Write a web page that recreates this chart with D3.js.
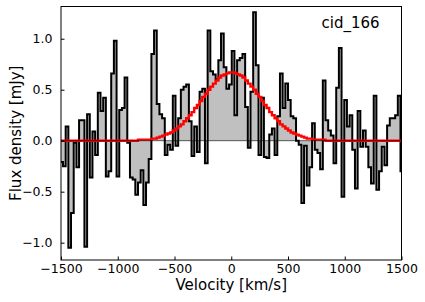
<!DOCTYPE html>
<html>
<head>
<meta charset="utf-8">
<script src="https://cdn.jsdelivr.net/npm/d3@7"></script>
<style>
  body { margin: 0; background: #fff; }
  svg text { font-family: "DejaVu Sans", sans-serif; fill: #000; }
</style>
</head>
<body>
<div id="chart"></div>
<script>
// data ------------------------------------------------------------------
const velStart = -1506;   // left edge of first channel (km/s)
const chanWidth = 23.6;   // channel width (km/s)

// observed flux per channel [mJy]
const flux = [
  -0.21, -0.25, 0.14, -1.05, -0.71, -0.02, -0.26, 0.20, 0.20, -1.04,
  0.26, -0.36, 0.09, -0.14, 0.47, 0.29, 0.42, -0.35, -0.30, 0.66,
  0.98, -0.35, 0.30, 0.32, 0.62, -0.02, -0.36, -0.38, -0.53, -0.41,
  -0.29, -0.63, -0.41, -0.18, 0.85, 1.08, 0.36, 0.26, 0.22, -0.14,
  -0.04, -0.09, 0.44, -0.05, 0.22, 0.50, 0.53, 0.55, 0.19, -0.15,
  0.14, -0.11, 0.48, 0.51, -0.22, 1.08, 0.68, 0.65, 0.60, 0.79,
  1.05, 0.72, 0.51, 0.55, 0.88, 0.25, 0.79, 0.81, 0.85, 0.33,
  -0.07, 0.48, 1.26, 0.74, -0.14, 0.42, -0.16, -0.17, 0.06, 0.12,
  -0.14, 0.24, 0.66, 0.32, 0.56, 0.40, 0.24, 0.22, 0.00, -0.04,
  -0.61, -0.05, -0.44, -0.26, 0.17, -0.09, -0.12, -0.28, 0.59, 0.20,
  0.10, 0.05, -0.22, 0.52, 0.91, -0.55, 0.40, 0.14, 0.25, -0.09,
  -0.47, 0.29, -0.06, 0.10, -0.06, -0.26, -0.42, 0.44, -0.48, -0.30,
  -0.06, -0.24, 0.15, 0.22, 0.22, 0.25, 0.44, -0.30
];

// gaussian fit per channel [mJy]
const model = [
  0, 0, 0, 0, 0, 0, 0, 0, 0, 0,
  0, 0, 0, 0, 0, 0, 0, 0, 0, 0,
  0, 0, 0, 0, 0, 0, 0, 0, 0, 0.01,
  0.01, 0.01, 0.01, 0.01, 0.02, 0.02, 0.03, 0.04, 0.05, 0.06,
  0.07, 0.08, 0.10, 0.12, 0.14, 0.16, 0.19, 0.22, 0.25, 0.28,
  0.32, 0.35, 0.39, 0.43, 0.46, 0.50, 0.53, 0.56, 0.59, 0.62,
  0.64, 0.65, 0.66, 0.67, 0.67, 0.66, 0.65, 0.64, 0.62, 0.59,
  0.56, 0.53, 0.50, 0.46, 0.43, 0.39, 0.35, 0.32, 0.28, 0.25,
  0.22, 0.19, 0.16, 0.14, 0.12, 0.10, 0.08, 0.07, 0.06, 0.05,
  0.04, 0.03, 0.02, 0.02, 0.01, 0.01, 0.01, 0.01, 0.01, 0,
  0, 0, 0, 0, 0, 0, 0, 0, 0, 0,
  0, 0, 0, 0, 0, 0, 0, 0, 0, 0,
  0, 0, 0, 0, 0, 0, 0, 0
];

const xTicks = [-1500, -1000, -500, 0, 500, 1000, 1500];
const yTicks = [-1.0, -0.5, 0.0, 0.5, 1.0];
const label = "cid_166";

// chart setup -------------------------------------------------------------
const svgWidth = 425;
const svgHeight = 302;
const margin = { top: 6.5, right: 23.5, bottom: 42, left: 61 };
const width = svgWidth - margin.left - margin.right;
const height = svgHeight - margin.top - margin.bottom;

const svg = d3.select("#chart").append("svg")
  .attr("width", svgWidth)
  .attr("height", svgHeight);

const g = svg.append("g")
  .attr("transform", `translate(${margin.left},${margin.top})`);

const x = d3.scaleLinear().domain([-1500, 1500]).range([0, width]);
const y = d3.scaleLinear().domain([-1.17, 1.316]).range([height, 0]);

svg.append("defs").append("clipPath").attr("id", "plotclip")
  .append("rect").attr("width", width).attr("height", height);

const plot = g.append("g").attr("clip-path", "url(#plotclip)");

// step points: one per channel left edge plus the closing right edge
function steps(vals) {
  const pts = vals.map((f, i) => ({ v: velStart + i * chanWidth, f: f }));
  pts.push({ v: velStart + vals.length * chanWidth, f: vals[vals.length - 1] });
  return pts;
}

const fluxPts = steps(flux);
const modelPts = steps(model);

const area = d3.area()
  .curve(d3.curveStepAfter)
  .x(d => x(d.v))
  .y0(y(0))
  .y1(d => y(d.f));

const line = d3.line()
  .curve(d3.curveStepAfter)
  .x(d => x(d.v))
  .y(d => y(d.f));

plot.append("path")
  .datum(fluxPts)
  .attr("d", area)
  .attr("fill", "#c0c0c0");

plot.append("path")
  .datum(fluxPts)
  .attr("d", line)
  .attr("fill", "none")
  .attr("stroke", "#000")
  .attr("stroke-width", 2);

plot.append("path")
  .datum(modelPts)
  .attr("d", line)
  .attr("fill", "none")
  .attr("stroke", "#ff0000")
  .attr("stroke-width", 2.4);

// zero line
plot.append("line")
  .attr("x1", 0).attr("x2", width)
  .attr("y1", y(0)).attr("y2", y(0))
  .attr("stroke", "#000")
  .attr("stroke-opacity", 0.6)
  .attr("stroke-width", 1);

// axes --------------------------------------------------------------------
const xAxis = g.append("g")
  .attr("transform", `translate(0,${height})`)
  .call(d3.axisBottom(x).tickValues(xTicks).tickFormat(d3.format("d"))
    .tickSizeInner(-3.5).tickSizeOuter(0).tickPadding(4));

const yAxis = g.append("g")
  .call(d3.axisLeft(y).tickValues(yTicks).tickFormat(d3.format(".1f"))
    .tickSizeInner(-3.5).tickSizeOuter(0).tickPadding(8.5));

[xAxis, yAxis].forEach(a => {
  a.select(".domain").remove();
  a.selectAll("text").attr("font-size", "12.5px").attr("font-family", "DejaVu Sans");
  a.selectAll("line").attr("stroke", "#000");
});

// frame
g.append("rect")
  .attr("width", width)
  .attr("height", height)
  .attr("fill", "none")
  .attr("stroke", "#000")
  .attr("stroke-width", 1);

// labels
svg.append("text")
  .attr("x", margin.left + width / 2)
  .attr("y", 290)
  .attr("text-anchor", "middle")
  .attr("font-size", "15px")
  .text("Velocity [km/s]");

svg.append("text")
  .attr("transform", `translate(21,${margin.top + height / 2}) rotate(-90)`)
  .attr("text-anchor", "middle")
  .attr("font-size", "15px")
  .text("Flux density [mJy]");

svg.append("text")
  .attr("x", 321.5)
  .attr("y", 28)
  .attr("font-size", "15px")
  .text(label);
</script>
</body>
</html>
